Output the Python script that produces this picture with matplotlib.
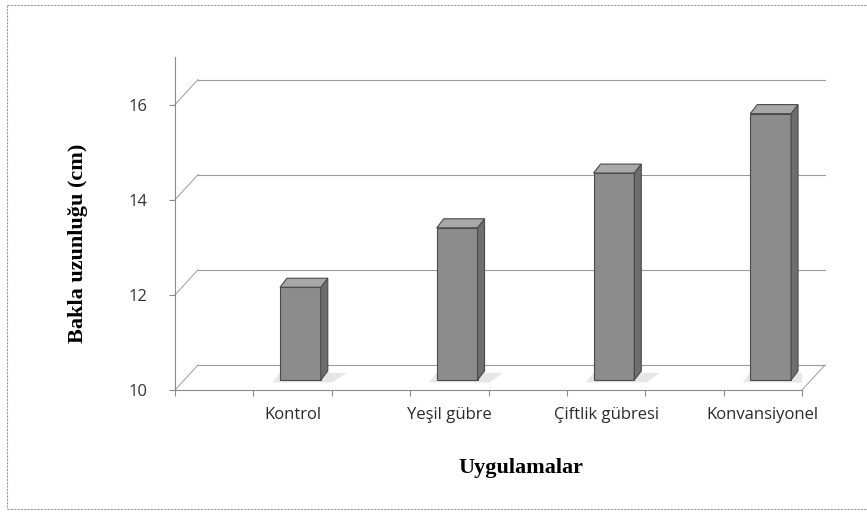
import matplotlib
matplotlib.use("Agg")
import matplotlib.pyplot as plt
from matplotlib.patches import Polygon
from matplotlib.lines import Line2D

# data
categories = ["Kontrol", "Yeşil gübre", "Çiftlik gübresi", "Konvansiyonel"]
pod_length = [11.95, 13.2, 14.35, 15.6]
y_ticks = [10, 12, 14, 16]

W, H = 867, 512
fig = plt.figure(figsize=(W / 100, H / 100), dpi=100)

# front axes box in pixels (left, top, right, bottom)
L, T, R, B = 175, 57, 802, 390
ax = fig.add_axes([L / W, 1 - B / H, (R - L) / W, (B - T) / H])
ax.set_xlim(0, 8)
ax.set_ylim(10, 17)
px_x = 8 / (R - L)     # data units per pixel
px_y = 7 / (B - T)

grid_col = "#9c9c9c"
# depth of the fake 3D wall
dx, dy = 23 * px_x, 25 * px_y

# back wall gridlines + diagonals from front axis
for g in y_ticks:
    ax.add_line(Line2D([dx, 8 + dx], [g + dy, g + dy], color=grid_col, lw=0.8, clip_on=False))
    ax.add_line(Line2D([0, dx], [g, g + dy], color=grid_col, lw=0.7, clip_on=False))
ax.add_line(Line2D([8, 8 + dx], [10, 10 + dy], color=grid_col, lw=0.7, clip_on=False))

# bars sit on a plane a bit deeper than the front axis
positions = [1.6 + 2 * i for i in range(len(categories))]
bw = 0.52
lift = 10 * px_y
bdx, bdy = 7 * px_x, 9 * px_y
for x, v in zip(positions, pod_length):
    x0, x1 = x - bw / 2, x + bw / 2
    base = 10 + lift
    top = v + lift
    # floor shadow
    ax.add_patch(Polygon([(x0 - 0.1, base - 0.05), (x1 + 0.15, base - 0.05),
                          (x1 + 0.15 + bdx * 2, base + bdy * 0.8), (x0, base + bdy * 0.8)],
                         closed=True, fc="#e6e6e6", ec="none", zorder=1))
    ax.bar(x, top - base, bottom=base, width=bw, color="#8c8c8c",
           edgecolor="#4a4a4a", linewidth=0.8, zorder=3)
    ax.add_patch(Polygon([(x1, base), (x1 + bdx, base + bdy), (x1 + bdx, top + bdy), (x1, top)],
                         closed=True, fc="#6e6e6e", ec="#4a4a4a", lw=0.8, zorder=3))
    ax.add_patch(Polygon([(x0, top), (x1, top), (x1 + bdx, top + bdy), (x0 + bdx, top + bdy)],
                         closed=True, fc="#a8a8a8", ec="#4a4a4a", lw=0.8, zorder=3))

for side in ["top", "right"]:
    ax.spines[side].set_visible(False)
for side in ["left", "bottom"]:
    ax.spines[side].set_color("#8a8a8a")
    ax.spines[side].set_linewidth(0.8)

ax.set_yticks(y_ticks)
ax.set_yticklabels([str(t) for t in y_ticks], fontsize=12, color="#333333", family="Open Sans")
ax.tick_params(axis="y", length=4, color="#8a8a8a", pad=16)
ax.set_xticks(range(9))
ax.set_xticklabels([])
ax.tick_params(axis="x", length=4, color="#8a8a8a", direction="out")

# category labels sit slightly right of the front category centres
for i, c in enumerate(categories):
    ax.text(1.5 + 2 * i, 10 - 25 * px_y, c, ha="center", va="center",
            fontsize=12, color="#2a2a2a", family="Open Sans")

fig.text(521 / W, 1 - 468 / H, "Uygulamalar", ha="center", va="center",
         fontsize=16, fontweight="bold", family="Liberation Serif")
fig.text(78 / W, 1 - 243 / H, "Bakla uzunluğu (cm)", ha="center", va="center",
         rotation=90, fontsize=16, fontweight="bold", family="Liberation Serif")

# outer chart frame
for xs, ys in [([7, 7], [5, 509]), ([7, W], [5, 5]), ([7, W], [509, 509])]:
    fig.add_artist(Line2D([x / W for x in xs], [1 - y / H for y in ys], color="#9a9a9a",
                          lw=0.8, linestyle=(0, (2, 1)), transform=fig.transFigure))

fig.savefig("out.png", dpi=100)
